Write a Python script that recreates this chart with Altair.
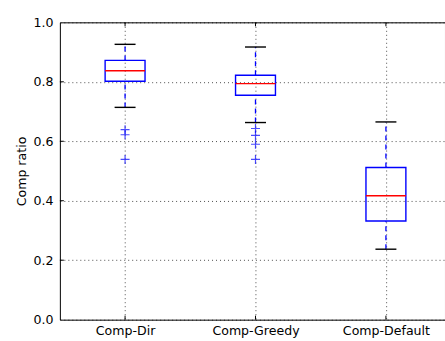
import altair as alt
import pandas as pd

categories = ["Comp-Dir", "Comp-Greedy", "Comp-Default"]
positions = [1, 2, 3]
whisker_low = [0.714, 0.663, 0.237]
q1 = [0.802, 0.755, 0.332]
median = [0.837, 0.794, 0.417]
q3 = [0.872, 0.822, 0.512]
whisker_high = [0.926, 0.917, 0.665]
outlier_pos = [1, 1, 1, 2, 2, 2, 2]
outlier_val = [0.639, 0.622, 0.539, 0.643, 0.620, 0.590, 0.539]
y_ticks = [0.0, 0.2, 0.4, 0.6, 0.8, 1.0]

stats = pd.DataFrame({"pos": positions, "cat": categories, "wlo": whisker_low,
                      "q1": q1, "med": median, "q3": q3, "whi": whisker_high})
outl = pd.DataFrame({"pos": outlier_pos, "val": outlier_val})
yt = pd.DataFrame({"val": y_ticks[1:-1]})

FONT = "DejaVu Sans"
FS = 12.6
xs = alt.Scale(domain=[0.5, 3.453], nice=False, zero=False)
ys = alt.Scale(domain=[0, 1], nice=False, zero=False)
label_expr = "[" + ",".join("'%s'" % c for c in categories) + "][datum.value - 1]"

base = alt.Chart(stats)

axes_layer = base.mark_point(opacity=0).encode(
    x=alt.X("pos:Q", scale=xs, axis=alt.Axis(
        values=positions, labelExpr=label_expr, title=None, grid=True,
        gridColor="black", gridDash=[1, 3], gridWidth=0.7, tickSize=0,
        domain=False, labelFont=FONT, labelFontSize=FS, labelColor="black",
        labelPadding=5)),
    y=alt.Y("med:Q", scale=ys, axis=alt.Axis(
        values=y_ticks, format=".1f", title="Comp ratio", grid=True,
        gridColor="black", gridDash=[1, 3], gridWidth=0.7, tickSize=0,
        domain=False, labelFont=FONT, labelFontSize=FS, labelColor="black",
        labelPadding=7, titleFont=FONT, titleFontSize=FS, titleFontWeight="normal",
        titleColor="black", titlePadding=4)),
)

box = base.mark_rect(filled=False, stroke="blue", strokeWidth=1.4,
                     xOffset=-20, x2Offset=20).encode(
    x=alt.X("pos:Q", scale=xs), x2="pos:Q",
    y=alt.Y("q1:Q", scale=ys), y2="q3:Q")

med = base.mark_rule(color="red", strokeWidth=1.4, xOffset=-20, x2Offset=20).encode(
    x=alt.X("pos:Q", scale=xs), x2="pos:Q",
    y=alt.Y("med:Q", scale=ys))

wh_up = base.mark_rule(color="blue", strokeWidth=1.3, strokeDash=[5, 4]).encode(
    x=alt.X("pos:Q", scale=xs),
    y=alt.Y("q3:Q", scale=ys), y2="whi:Q")
wh_dn = base.mark_rule(color="blue", strokeWidth=1.3, strokeDash=[5, 4]).encode(
    x=alt.X("pos:Q", scale=xs),
    y=alt.Y("wlo:Q", scale=ys), y2="q1:Q")

cap_hi = base.mark_rule(color="black", strokeWidth=1.4, xOffset=-10.5, x2Offset=10.5).encode(
    x=alt.X("pos:Q", scale=xs), x2="pos:Q",
    y=alt.Y("whi:Q", scale=ys))
cap_lo = base.mark_rule(color="black", strokeWidth=1.4, xOffset=-10.5, x2Offset=10.5).encode(
    x=alt.X("pos:Q", scale=xs), x2="pos:Q",
    y=alt.Y("wlo:Q", scale=ys))

fliers = alt.Chart(outl).mark_point(shape="M-1,0H1M0,-1V1", filled=False, stroke="blue",
                                    strokeWidth=1.2, size=81).encode(
    x=alt.X("pos:Q", scale=xs),
    y=alt.Y("val:Q", scale=ys))

# inward ticks
left_ticks = alt.Chart(yt).mark_rule(color="black", strokeWidth=1).encode(
    x=alt.value(0), x2=alt.value(4), y=alt.Y("val:Q", scale=ys))
top_ticks = base.mark_rule(color="black", strokeWidth=1).encode(
    x=alt.X("pos:Q", scale=xs), y=alt.value(0), y2=alt.value(4))
bot_ticks = base.mark_rule(color="black", strokeWidth=1).encode(
    x=alt.X("pos:Q", scale=xs), y=alt.value(298), y2=alt.value(294))

chart = alt.layer(axes_layer, box, wh_up, wh_dn, cap_hi, cap_lo, med, fliers,
                  left_ticks, top_ticks, bot_ticks).properties(
    width=386, height=298,
    autosize=alt.AutoSizeParams(type="none"),
    padding={"left": 60, "top": 22, "right": 0, "bottom": 21},
    background="white",
).configure_view(stroke="black", strokeWidth=1)

chart.save("out.html", embed_options={"renderer": "svg", "actions": False})
